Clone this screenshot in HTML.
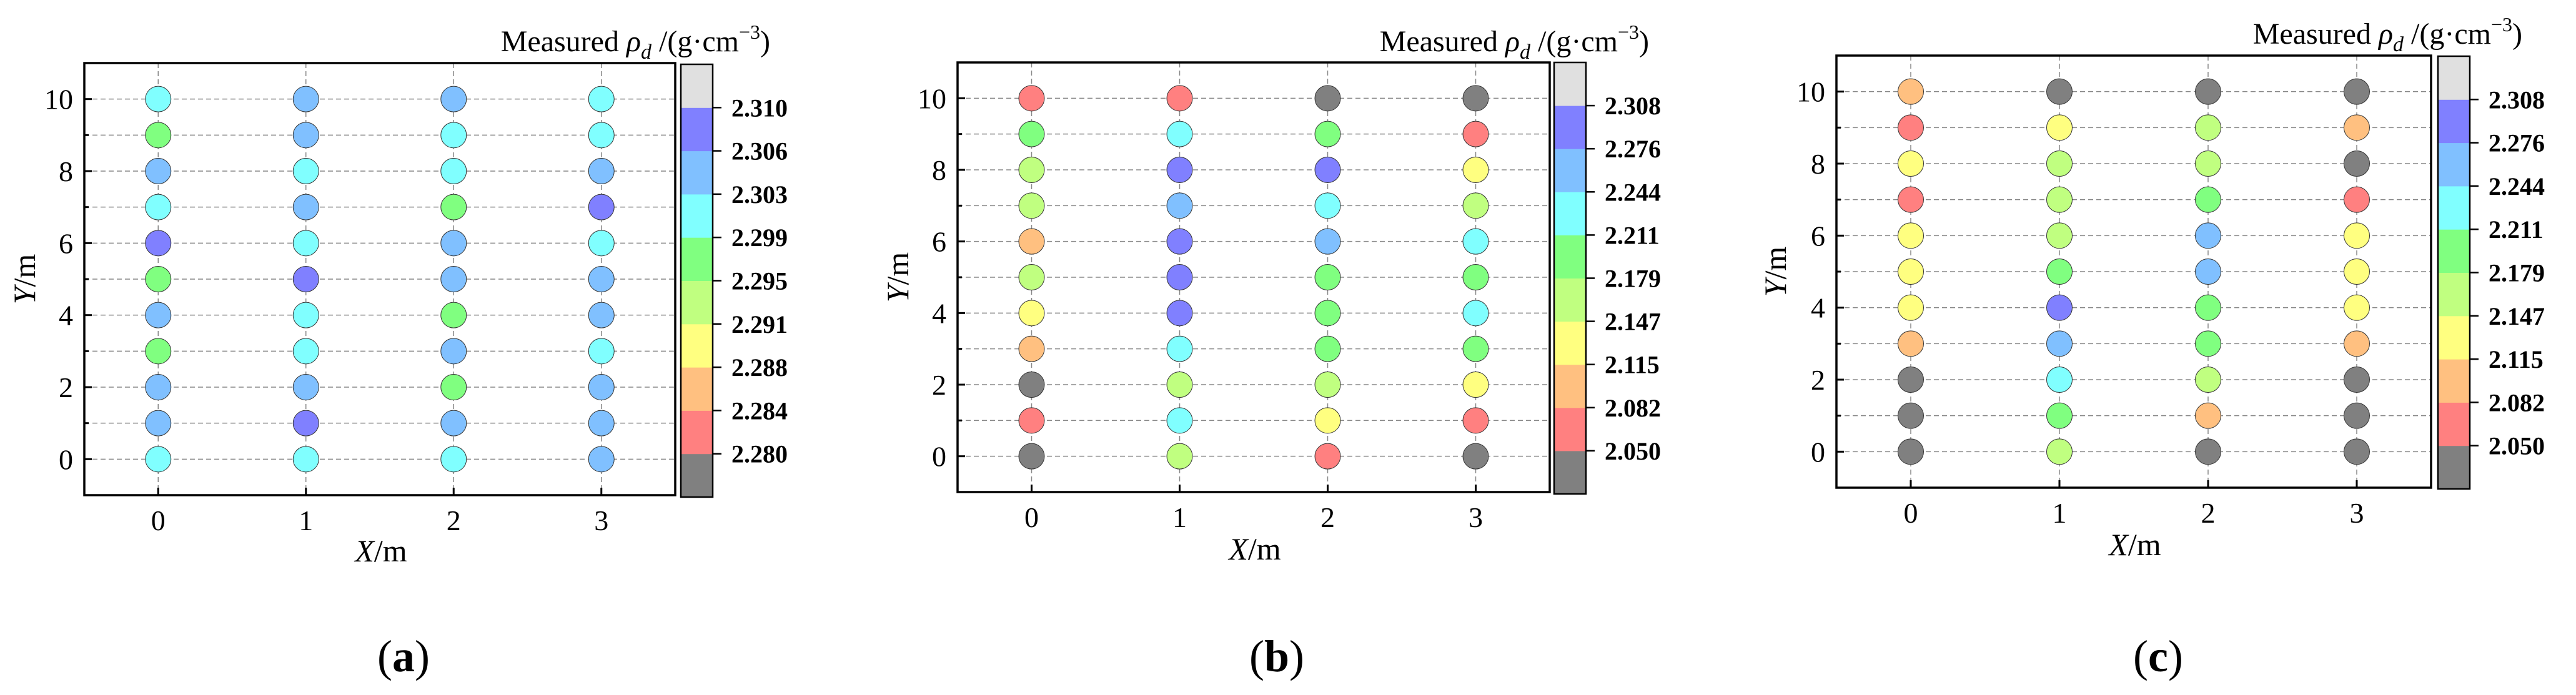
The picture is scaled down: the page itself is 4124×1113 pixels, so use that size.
<!DOCTYPE html>
<html><head><meta charset="utf-8"><style>
html,body{margin:0;padding:0;background:#fff;}
svg{display:block;font-family:"Liberation Serif",serif;}
</style></head><body>
<svg id="fig" width="4124" height="1113" viewBox="0 0 4124 1113" xmlns="http://www.w3.org/2000/svg"></svg>
<script>
const xCats = [0, 1, 2, 3];
const yCats = [0, 1, 2, 3, 4, 5, 6, 7, 8, 9, 10];
const yTickLabels = ["0", "2", "4", "6", "8", "10"];
const classColors = ["#808080","#ff8080","#ffc080","#ffff80","#c0ff80","#80ff80","#80ffff","#80c0ff","#8080ff","#e0e0e0"];
const thresholdsA = [2.280, 2.284, 2.288, 2.291, 2.295, 2.299, 2.303, 2.306, 2.310];
const thresholdsBC = [2.050, 2.082, 2.115, 2.147, 2.179, 2.211, 2.244, 2.276, 2.308];
const labelsA = ["2.280","2.284","2.288","2.291","2.295","2.299","2.303","2.306","2.310"];
const labelsBC = ["2.050","2.082","2.115","2.147","2.179","2.211","2.244","2.276","2.308"];
// values per column x=0..3, each ordered y=0..10
const valuesA = [
 [2.301,2.304,2.304,2.297,2.304,2.297,2.308,2.301,2.304,2.297,2.301],
 [2.301,2.308,2.304,2.301,2.301,2.308,2.301,2.304,2.301,2.304,2.304],
 [2.301,2.304,2.297,2.304,2.297,2.304,2.304,2.297,2.301,2.301,2.304],
 [2.304,2.304,2.304,2.301,2.304,2.304,2.301,2.308,2.304,2.301,2.301]
];
const valuesB = [
 [2.04,2.066,2.04,2.098,2.131,2.163,2.098,2.163,2.163,2.195,2.066],
 [2.163,2.227,2.163,2.227,2.292,2.292,2.292,2.26,2.292,2.227,2.066],
 [2.066,2.131,2.163,2.195,2.195,2.195,2.26,2.227,2.292,2.195,2.04],
 [2.04,2.066,2.131,2.195,2.227,2.195,2.227,2.163,2.131,2.066,2.04]
];
const valuesC = [
 [2.04,2.04,2.04,2.098,2.131,2.131,2.131,2.066,2.131,2.066,2.098],
 [2.163,2.195,2.227,2.26,2.292,2.195,2.163,2.163,2.163,2.131,2.04],
 [2.04,2.098,2.163,2.195,2.195,2.26,2.26,2.195,2.163,2.163,2.04],
 [2.04,2.04,2.04,2.098,2.131,2.131,2.131,2.066,2.04,2.098,2.04]
];

const NS = "http://www.w3.org/2000/svg";
const svg = document.getElementById("fig");
function mk(tag, attrs, parent, text) {
  const e = document.createElementNS(NS, tag);
  for (const k in attrs) e.setAttribute(k, attrs[k]);
  if (text !== undefined) e.textContent = text;
  (parent || svg).appendChild(e);
  return e;
}
function classOf(v, th) {
  let k = 0;
  for (let i = 0; i < th.length; i++) if (v >= th[i]) k = i + 1;
  return k;
}

const panels = [
  {id:"a", L:135, R:1081, T:101, B:793, cbL:1090, cbR:1141, cbT:103, cbB:796, titleX:1233, titleY:82, ylabX:40, xlabY:899, tagX:646, vals:valuesA, th:thresholdsA, lab:labelsA},
  {id:"b", L:1533, R:2481, T:100, B:788, cbL:2488, cbR:2539, cbT:100, cbB:791, titleX:2640, titleY:82, ylabX:1438, xlabY:896, tagX:2044, vals:valuesB, th:thresholdsBC, lab:labelsBC},
  {id:"c", L:2940, R:3892, T:89, B:781, cbL:3903, cbR:3954, cbT:90, cbB:783, titleX:4038, titleY:70, ylabX:2843, xlabY:889, tagX:3455, vals:valuesC, th:thresholdsBC, lab:labelsBC}
];

panels.forEach(p => {
  const g = mk("g", {});
  
  
  const xs = v => p.L + (v + 0.5) / 4 * (p.R - p.L);
  const ys = v => p.B - (v + 1) / 12 * (p.B - p.T);

  yCats.forEach(y => {
    const l = mk("line", {x1:p.L, x2:p.R, y1:ys(y), y2:ys(y), stroke:"#888", "stroke-width":1.5, "stroke-dasharray":"8,5"}, g);
    
    
    mk("line", {x1:p.L, x2:p.L + (y % 2 === 0 ? 12 : 7), y1:ys(y), y2:ys(y), stroke:"#000", "stroke-width":3}, g);
  });
  xCats.forEach(x => {
    const l = mk("line", {x1:xs(x), x2:xs(x), y1:p.T, y2:p.B, stroke:"#888", "stroke-width":1.5, "stroke-dasharray":"8,5"}, g);
    
    
    mk("line", {x1:xs(x), x2:xs(x), y1:p.B, y2:p.B - 12, stroke:"#000", "stroke-width":3}, g);
    const t = mk("text", {x:xs(x), y:p.B + 56, "font-size":46, "text-anchor":"middle"}, g, String(x));
    
    
  });
  yTickLabels.forEach(s => {
    const t = mk("text", {x:p.L - 18, y:ys(+s) + 16, "font-size":46, "text-anchor":"end"}, g, s);
    
    
  });

  p.vals.forEach((col, xi) => {
    col.forEach((v, yi) => {
      const c = mk("circle", {cx:xs(xCats[xi]), cy:ys(yCats[yi]), r:20.5, fill:classColors[classOf(v, p.th)], stroke:"#333", "stroke-width":1}, g);
      
      
    });
  });

  const fr = mk("rect", {x:p.L, y:p.T, width:p.R - p.L, height:p.B - p.T, fill:"none", stroke:"#000", "stroke-width":3.5}, g);
  
  

  const cb = mk("g", {}, g);
  
  
  const segH = (p.cbB - p.cbT) / 10;
  classColors.forEach((col, k) => {
    const s = mk("rect", {x:p.cbL, y:p.cbB - (k + 1) * segH, width:p.cbR - p.cbL, height:segH + 0.5, fill:col}, cb);
    
    
  });
  mk("rect", {x:p.cbL, y:p.cbT, width:p.cbR - p.cbL, height:p.cbB - p.cbT, fill:"none", stroke:"#000", "stroke-width":2.5}, cb);
  p.lab.forEach((s, i) => {
    const yy = p.cbB - (i + 1) * segH;
    mk("line", {x1:p.cbR, x2:p.cbR + 14, y1:yy, y2:yy, stroke:"#000", "stroke-width":2.5}, cb);
    const t = mk("text", {x:p.cbR + 30, y:yy + 14, "font-size":40, "font-weight":"bold"}, cb, s);
    
    
  });

  const tt = mk("text", {x:p.titleX, y:p.titleY, "font-size":48, "text-anchor":"end"}, g);
  
  
  tt.innerHTML = 'Measured <tspan font-style="italic">ρ</tspan><tspan font-style="italic" font-size="34" dy="12">d</tspan><tspan dy="-12"> /(g·cm</tspan><tspan font-size="32" dy="-20">−3</tspan><tspan dy="20">)</tspan>';

  const xl = mk("text", {x:p.L + (p.R - p.L) / 2 + 2, y:p.xlabY, "font-size":50, "text-anchor":"middle"}, g);
  
  
  xl.innerHTML = '<tspan font-style="italic">X</tspan>/m';
  const yl = mk("text", {x:0, y:0, "font-size":50, "text-anchor":"middle", transform:`translate(${p.ylabX + 16},${(p.T + p.B) / 2}) rotate(-90)`}, g);
  
  
  yl.innerHTML = '<tspan font-style="italic">Y</tspan>/m';

  const tg = mk("text", {x:p.tagX, y:1075, "font-size":72, "text-anchor":"middle"}, g);
  
  
  tg.innerHTML = '(<tspan font-weight="bold">' + p.id + '</tspan>)';
});
</script>
</body></html>
